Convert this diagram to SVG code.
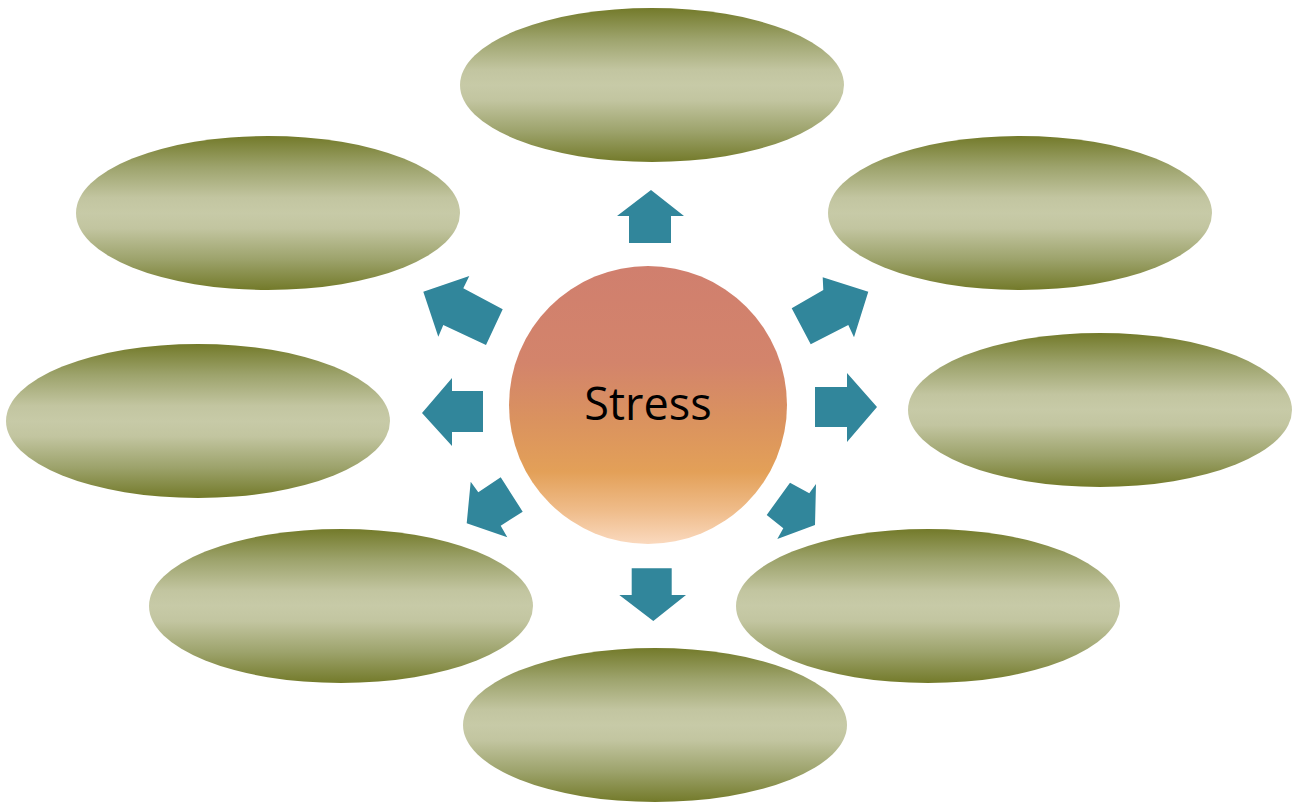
<svg xmlns="http://www.w3.org/2000/svg" width="1294" height="804" viewBox="0 0 1294 804">
<defs>
<linearGradient id="olive" x1="0" y1="0" x2="0" y2="1">
<stop offset="0" stop-color="#737A2A"/>
<stop offset="0.2" stop-color="#9DA36C"/>
<stop offset="0.4" stop-color="#C2C5A0"/>
<stop offset="0.5" stop-color="#C7CAA7"/>
<stop offset="0.6" stop-color="#C2C5A0"/>
<stop offset="0.8" stop-color="#9DA36C"/>
<stop offset="1" stop-color="#737A2A"/>
</linearGradient>
<linearGradient id="sun" x1="0" y1="0" x2="0" y2="1">
<stop offset="0" stop-color="#D07F6E"/>
<stop offset="0.35" stop-color="#D3846B"/>
<stop offset="0.55" stop-color="#DA925F"/>
<stop offset="0.74" stop-color="#E3A058"/>
<stop offset="0.88" stop-color="#EFBC8A"/>
<stop offset="1" stop-color="#FAD9BE"/>
</linearGradient>
</defs>
<style>
.oval{fill:url(#olive);}
.arrow{fill:#31869B;}
.label{font-family:"Open Sans","Liberation Sans",sans-serif;font-size:45px;fill:#000;text-anchor:middle;}
</style>
<g id="node-top"><ellipse class="oval" cx="652" cy="85" rx="192" ry="77"/></g>
<g id="node-upper-left"><ellipse class="oval" cx="268" cy="213" rx="192" ry="77"/></g>
<g id="node-upper-right"><ellipse class="oval" cx="1020" cy="213" rx="192" ry="77"/></g>
<g id="node-left"><ellipse class="oval" cx="198" cy="421" rx="192" ry="77"/></g>
<g id="node-right"><ellipse class="oval" cx="1100" cy="410" rx="192" ry="77"/></g>
<g id="node-lower-left"><ellipse class="oval" cx="341" cy="606" rx="192" ry="77"/></g>
<g id="node-lower-right"><ellipse class="oval" cx="928" cy="606" rx="192" ry="77"/></g>
<g id="node-bottom"><ellipse class="oval" cx="655" cy="725" rx="192" ry="77"/></g>
<g id="connectors">
<polygon class="arrow" points="629,243 629,216 617,216 651,190 684,216 671,216 671,243"/>
<polygon class="arrow" points="815,387 847,387 847,373 877,407 847,442 847,427 815,427"/>
<polygon class="arrow" points="483,391 452,391 452,378 422,413 452,446 452,432 483,432"/>
<polygon class="arrow" points="423.3,291.7 469.3,276 463.3,288.3 502.7,309.3 486,345 443.3,325 438.3,336.7"/>
<polygon class="arrow" points="791.7,308.3 823.3,290 822.7,277.3 868.3,291.7 854,337.3 848.3,325 810.7,344.3"/>
<polygon class="arrow" points="466.7,523.3 470.7,481.7 478.3,492.3 500.7,477.3 522.7,511.7 500.7,525.7 507.3,537.3"/>
<polygon class="arrow" points="816,484 809.3,493.3 790,482.7 766.7,515 783.3,528.3 777.3,539 815,525"/>
<polygon class="arrow" points="631.7,568.3 671.7,568.3 671.7,595 686,595 653.3,621 619.3,595 631.7,595"/>
</g>
<g id="node-stress">
<circle cx="648" cy="405" r="139" fill="url(#sun)"/>
<text class="label" x="648" y="420">Stress</text>
</g>
</svg>
